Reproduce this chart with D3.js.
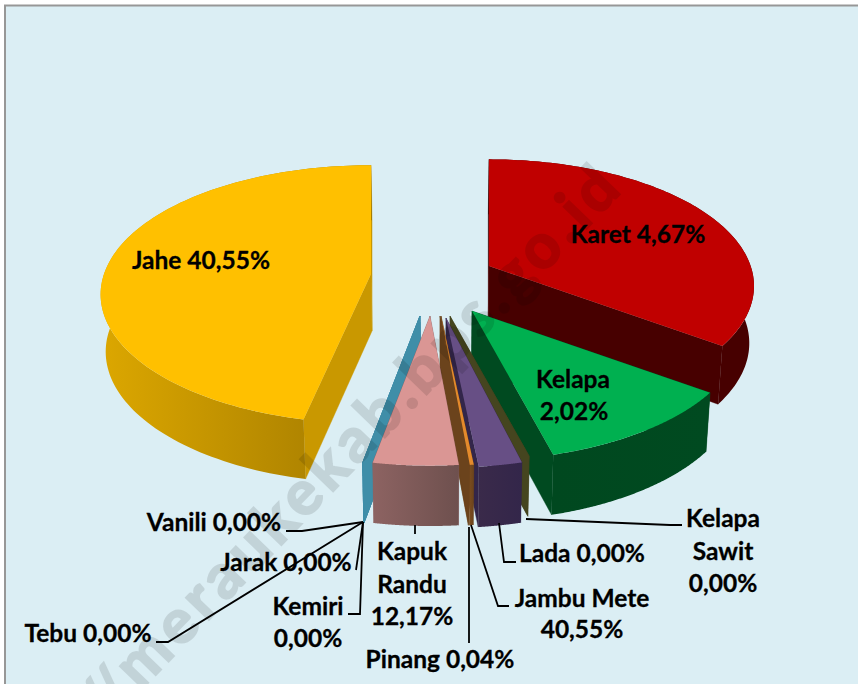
<!DOCTYPE html>
<html>
<head>
<meta charset="utf-8">
<style>html,body{margin:0;padding:0;background:#fff;overflow:hidden}svg{display:block}</style>
<script src="https://cdn.jsdelivr.net/npm/d3@7"></script>
</head>
<body>
<svg id="chart" width="858" height="684"></svg>
<script>
// ---- data ----
const categories = ["Karet","Kelapa","Kelapa Sawit","Lada","Jambu Mete","Pinang","Kapuk Randu","Kemiri","Jarak","Vanili","Tebu","Jahe"];
// printed percentages
const printedValues = ["4,67%","2,02%","0,00%","0,00%","40,55%","0,04%","12,17%","0,00%","0,00%","0,00%","0,00%","40,55%"];
// share of the circle that each slice occupies as drawn
const drawnShare = [35,10.85,0,2.5,0.2,0,4.35,0,0,0,0,47.1];

// ---- styling and layout ----
const topColors  = ["#C00000","#00B050","#4A4A22","#674F85","#E48A2C","#6B431C","#DA9694","#3F8EA8","#3F8EA8","#3F8EA8","#3F8EA8","#FFC000"];
const sideColors = ["#470000","#004A20","#45451F","#33264A","#6B431C","#6B431C","#8A5E5E","#3F8EA8","#3F8EA8","#3F8EA8","#3F8EA8","#C99800"];
const wallFrom   = ["#470000","#00481F","#45451F","#3A2A4A","#7A4C1E","#6B431C","#8D6362","#3F8EA8","#3F8EA8","#3F8EA8","#3F8EA8","#DCA700"];
const wallTo     = ["#470000","#004A20","#45451F","#33264A","#6B431C","#6B431C","#6E504E","#3F8EA8","#3F8EA8","#3F8EA8","#3F8EA8","#A27A00"];
// apex of each exploded slice, its radius factor and the small angular trim at its start (degrees)
const apexX = [489,472,450,446,441,440,430,420,420,420,420,371];
const apexY = [266,311,316,318,316,316,316,316,316,316,316,274];
const radiusFactor = [0.98,1,0.975,1,1,1,1,1,1,1,1,1];
const startTrim = [0,0,0,1,0,0,0,0,0,0,0,1.9];
const drawOrder = [0,11,1,2,3,5,4,10,9,8,7,6];

// label lines: text, anchor x and baseline y per line
const labelLines = [
  [["Karet 4,67%",638,243]],
  [["Kelapa",573,388],["2,02%",574,420]],
  [["Kelapa",723,527],["Sawit",723,560],["0,00%",723,592]],
  [["Lada 0,00%",582,562]],
  [["Jambu Mete",582,607],["40,55%",582,638]],
  [["Pinang 0,04%",440,668]],
  [["Kapuk",412,560],["Randu",412,593],["12,17%",412,625]],
  [["Kemiri",308,615],["0,00%",308,647]],
  [["Jarak 0,00%",286,571]],
  [["Vanili 0,00%",214,531]],
  [["Tebu 0,00%",88,642]],
  [["Jahe 40,55%",201,269]]
];
// leader lines run from the slice's lower rim through these points
const leaderPoints = [
  [], [],
  [[670,525],[682,525]],
  [[504,562],[516,562]],
  [[498,606],[509,606]],
  [[469,643]],
  [[415,534]],
  [[360,614],[348,614]],
  [[356,570]],
  [[302,531],[286,531]],
  [[168,642],[156,642]],
  []
];
const leaderStart = [null,null,[526,519],[499,523],[471,525],[469,527],[415,525],[363,522],[363,522],[363,522],[363,522],null];

// ---- projection of the tilted pie ----
const radiusX = 267, radiusY = 126, perspective = 0.158, vanishX = 440;
const rim = (i, t) => {
  const s = radiusFactor[i] / (1 + perspective * Math.cos(t));
  return [apexX[i] + radiusX * Math.sin(t) * s, apexY[i] - radiusY * Math.cos(t) * s];
};
const drop = ([x, y]) => [vanishX + (x - vanishX) * 0.985, y + 52 + y * 0.018];

const pie = d3.pie().sort(null).startAngle(0).endAngle(2 * Math.PI);
const arcs = pie(drawnShare);
const line = d3.line();

const svg = d3.select("#chart");
const defs = svg.append("defs");
svg.append("rect").attr("width", 858).attr("height", 684).attr("fill", "#fff");
svg.append("rect").attr("x", 5).attr("y", 5.5).attr("width", 900).attr("height", 800)
  .attr("fill", "#DBEEF4").attr("stroke", "#979797").attr("stroke-width", 2);

const slices = svg.append("g");
drawOrder.forEach(i => {
  const a = arcs[i];
  const apex = [apexX[i], apexY[i]];
  const start = a.startAngle + startTrim[i] * Math.PI / 180;
  const ang = d3.range(0, 121).map(k => start + (a.endAngle - start) * k / 120);
  const rimPts = ang.map(t => rim(i, t));
  const g = slices.append("g").attr("class", "slice").attr("data-name", categories[i]);
  const first = rimPts[0], last = rimPts[rimPts.length - 1];
  [first, last].forEach(p => {
    g.append("path").attr("d", line([apex, p, drop(p), drop(apex)]) + "Z")
      .attr("fill", sideColors[i]).attr("stroke", sideColors[i]).attr("stroke-width", .4);
  });
  const id = "wall" + i;
  const xs = rimPts.map(p => p[0]);
  const grad = defs.append("linearGradient").attr("id", id).attr("gradientUnits", "userSpaceOnUse")
    .attr("x1", d3.min(xs)).attr("x2", d3.max(xs) + .01).attr("y1", 0).attr("y2", 0);
  grad.append("stop").attr("offset", 0).attr("stop-color", wallFrom[i]);
  grad.append("stop").attr("offset", 1).attr("stop-color", wallTo[i]);
  g.append("path").attr("d", line(rimPts.concat(rimPts.map(drop).reverse())) + "Z").attr("fill", `url(#${id})`);
  g.append("path").attr("d", line([apex].concat(rimPts)) + "Z").attr("fill", topColors[i]);
});

// leader lines
const leaders = svg.append("g");
leaderPoints.forEach((pts, i) => {
  if (!leaderStart[i]) return;
  leaders.append("path").attr("d", line([leaderStart[i]].concat(pts)))
    .attr("fill", "none").attr("stroke", "#000").attr("stroke-width", 1.8);
});

// labels
const labels = svg.append("g").attr("font-family", "Lato, 'Open Sans', sans-serif")
  .attr("font-weight", 700).attr("font-size", 24.5).attr("fill", "#000")
  .attr("stroke", "#000").attr("stroke-width", .3).attr("text-anchor", "middle");
labelLines.forEach(lines => lines.forEach(([t, x, y]) => labels.append("text").attr("x", x).attr("y", y).text(t)));

// watermark
svg.append("g").attr("opacity", .11).append("text").text("http://meraukekab.bps.go.id")
  .attr("transform", "translate(626,188) rotate(-46)")
  .attr("text-anchor", "end").attr("font-family", "Lato, sans-serif").attr("letter-spacing", 5)
  .attr("font-weight", 700).attr("font-size", 62).attr("fill", "#000")
  .attr("stroke", "#000").attr("stroke-width", 2);
</script>
</body>
</html>
